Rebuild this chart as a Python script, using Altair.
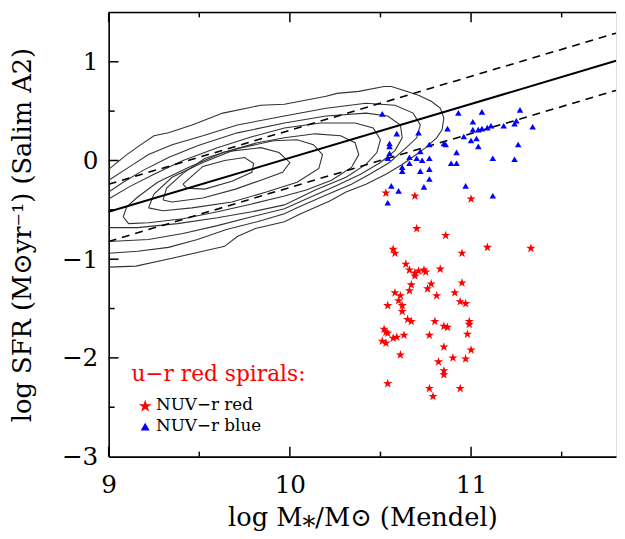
import altair as alt
import pandas as pd

# ---------------- data ----------------
blue_x = [10.51, 10.59, 10.71, 10.55, 10.55, 10.55, 10.54, 10.62, 10.62, 10.66, 10.66, 10.72, 10.70,
          10.73, 10.77, 10.77, 10.72, 10.77, 10.77, 10.74, 10.60, 10.56, 10.54, 10.85, 10.86, 10.87,
          10.93, 10.92, 10.89, 10.92, 10.96, 10.97, 11.00, 11.01, 11.01, 11.03, 11.04, 11.04, 11.06,
          11.06, 11.09, 11.11, 11.12, 11.12, 11.18, 11.24, 11.25, 11.27, 11.26, 11.24, 11.34]
blue_y = [0.47, 0.27, 0.28, 0.17, 0.14, 0.07, 0.02, -0.07, -0.11, 0.03, -0.03, 0.09, 0.02,
          0.00, 0.02, 0.16, -0.11, -0.09, -0.19, -0.27, -0.31, -0.26, -0.43, 0.17, 0.16, 0.32,
          0.48, 0.08, -0.03, -0.03, 0.24, -0.26, 0.20, 0.39, 0.31, 0.22, 0.14, 0.31, 0.32,
          0.49, 0.33, 0.35, 0.02, -0.36, 0.35, 0.37, 0.40, 0.51, 0.16, 0.01, 0.34]

red_x = [10.53, 10.69, 11.00, 10.70, 10.86, 10.57, 10.58, 11.09, 10.95, 10.64, 10.66, 10.69, 10.71,
         10.69, 10.74, 10.75, 10.83, 10.67, 10.78, 10.76, 10.95, 10.66, 10.58, 10.61, 10.91, 10.81,
         11.33, 10.60, 10.54, 10.62, 10.94, 10.97, 10.62, 10.65, 10.67, 10.80, 10.85, 10.87, 10.99,
         10.99, 10.52, 10.53, 10.54, 10.63, 10.57, 10.59, 10.77, 10.98, 10.51, 10.53, 10.85, 10.61,
         11.00, 10.82, 10.90, 10.97, 10.85, 10.85, 10.54, 10.77, 10.94, 10.79]
red_y = [-0.33, -0.36, -0.39, -0.69, -0.76, -0.90, -0.94, -0.88, -0.94, -1.05, -1.11, -1.14, -1.12,
         -1.17, -1.11, -1.13, -1.10, -1.26, -1.25, -1.30, -1.24, -1.32, -1.34, -1.37, -1.34, -1.37,
         -0.89, -1.42, -1.47, -1.47, -1.43, -1.45, -1.53, -1.61, -1.63, -1.63, -1.68, -1.69, -1.63,
         -1.66, -1.71, -1.74, -1.75, -1.77, -1.80, -1.79, -1.77, -1.76, -1.83, -1.85, -1.89, -1.97,
         -1.92, -2.04, -2.00, -2.01, -2.13, -2.17, -2.26, -2.31, -2.31, -2.39]

# contour polylines (outer -> inner)
c1_x = [9.00, 9.10, 9.17, 9.25, 9.33, 9.46, 9.63, 9.84, 9.97, 10.20, 10.26, 10.38, 10.52, 10.56, 10.63,
        10.71, 10.78, 10.83, 10.85, 10.84, 10.81, 10.75, 10.69, 10.62, 10.53, 10.42, 10.31, 10.22,
        10.06, 9.97, 9.81, 9.71, 9.64, 9.52, 9.35, 9.15, 9.00]
c1_y = [-0.09, 0.06, 0.15, 0.25, 0.28, 0.36, 0.48, 0.56, 0.57, 0.65, 0.68, 0.70, 0.75, 0.75, 0.71,
        0.66, 0.60, 0.53, 0.43, 0.31, 0.23, 0.13, 0.05, -0.04, -0.14, -0.24, -0.32, -0.41,
        -0.54, -0.62, -0.69, -0.77, -0.87, -0.92, -0.99, -1.07, -1.08]
c2_x = [9.00, 9.11, 9.22, 9.35, 9.52, 9.71, 9.97, 10.20, 10.42, 10.58, 10.68, 10.72, 10.70, 10.63,
        10.55, 10.44, 10.34, 10.20, 10.04, 9.97, 9.82, 9.65, 9.49, 9.33, 9.16, 9.00]
c2_y = [-0.20, -0.07, 0.06, 0.16, 0.25, 0.36, 0.45, 0.53, 0.58, 0.56, 0.48, 0.36, 0.23, 0.11,
        -0.02, -0.14, -0.24, -0.35, -0.48, -0.54, -0.62, -0.70, -0.80, -0.88, -0.92, -0.94]
c3_x = [9.00, 9.08, 9.19, 9.33, 9.49, 9.71, 9.97, 10.20, 10.42, 10.54, 10.61, 10.62, 10.58, 10.50,
        10.39, 10.25, 10.09, 9.97, 9.79, 9.60, 9.41, 9.22, 9.00]
c3_y = [-0.32, -0.22, -0.10, 0.03, 0.15, 0.28, 0.38, 0.45, 0.48, 0.45, 0.36, 0.23, 0.10, -0.02,
        -0.14, -0.26, -0.39, -0.49, -0.57, -0.66, -0.74, -0.80, -0.82]
c4_x = [9.00, 9.11, 9.25, 9.41, 9.60, 9.79, 9.97, 10.17, 10.36, 10.46, 10.50, 10.48, 10.42, 10.31,
        10.14, 9.97, 9.79, 9.60, 9.38, 9.16, 9.00]
c4_y = [-0.39, -0.27, -0.14, 0.00, 0.13, 0.24, 0.33, 0.38, 0.38, 0.33, 0.21, 0.08, -0.04, -0.17,
        -0.30, -0.45, -0.52, -0.58, -0.64, -0.68, -0.68]
c5_x = [9.08, 9.10, 9.16, 9.27, 9.44, 9.63, 9.82, 9.97, 10.14, 10.28, 10.36, 10.38, 10.34, 10.23,
        10.09, 9.97, 9.79, 9.60, 9.41, 9.22, 9.11, 9.08]
c5_y = [-0.57, -0.47, -0.37, -0.22, -0.07, 0.08, 0.18, 0.23, 0.27, 0.25, 0.18, 0.06, -0.07, -0.20,
        -0.30, -0.36, -0.44, -0.52, -0.59, -0.63, -0.64, -0.57]
c6_x = [9.22, 9.25, 9.35, 9.52, 9.71, 9.91, 10.04, 10.13, 10.18, 10.16, 10.04, 9.87, 9.68, 9.46,
        9.30, 9.22]
c6_y = [-0.48, -0.34, -0.17, -0.02, 0.12, 0.20, 0.21, 0.16, 0.06, -0.08, -0.22, -0.32, -0.42, -0.48,
        -0.51, -0.48]
c7_x = [9.30, 9.32, 9.41, 9.53, 9.65, 9.84, 9.94, 10.00, 9.96, 9.84, 9.70, 9.52, 9.35, 9.30]
c7_y = [-0.40, -0.28, -0.13, 0.02, 0.09, 0.13, 0.08, -0.02, -0.12, -0.20, -0.29, -0.38, -0.42, -0.40]
c8_x = [9.41, 9.47, 9.52, 9.64, 9.75, 9.80, 9.79, 9.68, 9.53, 9.43, 9.41]
c8_y = [-0.24, -0.14, -0.06, 0.00, 0.03, -0.03, -0.12, -0.21, -0.29, -0.28, -0.24]

# fitted relation and +-scatter
fit_x = [9.0, 11.8]
fit_y = [-0.52, 1.01]
fit_hi = [-0.24, 1.29]
fit_lo = [-0.82, 0.71]

x_major = [9, 10, 11]
x_minor = [9.5, 10.5, 11.5]
y_major = [-2, -1, 0, 1]
y_minor = [-2.5, -1.5, -0.5, 0.5]

legend_title = "u\u2212r red spirals:"
RED = "NUV\u2212r red"
BLUE = "NUV\u2212r blue"

# ---------------- tables ----------------
rows = []
for lev, (cx, cy) in enumerate([(c1_x, c1_y), (c2_x, c2_y), (c3_x, c3_y), (c4_x, c4_y),
                                (c5_x, c5_y), (c6_x, c6_y), (c7_x, c7_y), (c8_x, c8_y)]):
    for i, (a, b) in enumerate(zip(cx, cy)):
        rows.append({"x": a, "y": b, "level": lev, "o": i})
cdf = pd.DataFrame(rows)

fdf = pd.DataFrame({"x": fit_x * 3, "y": fit_y + fit_hi + fit_lo,
                    "kind": ["fit"] * 2 + ["hi"] * 2 + ["lo"] * 2})

rdf = pd.DataFrame({"x": red_x, "y": red_y})
bdf = pd.DataFrame({"x": blue_x, "y": blue_y})

W, H = 514, 450
FONT = "DejaVu Serif"
xs = alt.Scale(domain=[9, 11.8], nice=False, zero=False)
ys = alt.Scale(domain=[-3, 1.5], nice=False, zero=False)

xaxis = alt.Axis(values=x_major, ticks=False, grid=False, domainColor="black", domainWidth=1.6,
                 labelFont=FONT, labelFontSize=25, labelFontWeight="normal", labelColor="black",
                 labelPadding=16, labelFlush=False,
                 title="log M\u204e/M\u2299 (Mendel)", titleFont=FONT,
                 titleFontSize=26, titleFontWeight="normal", titleColor="black",
                 titleX=W / 2, titleY=62, titleBaseline="middle", titleAlign="center")
yaxis = alt.Axis(values=[-3] + y_major, ticks=False, grid=False, domainColor="black", domainWidth=1.6,
                 labelFont=FONT, labelFontSize=25, labelFontWeight="normal", labelColor="black",
                 labelPadding=11, labelFlush=False,
                 title="log SFR (M\u2299yr\u207b\u00b9) (Salim A2)", titleFont=FONT,
                 titleFontSize=26, titleFontWeight="normal", titleColor="black",
                 titleX=-87, titleY=H / 2, titleAngle=-90, titleBaseline="middle", titleAlign="center")

X = alt.X("x:Q", scale=xs, axis=xaxis)
Y = alt.Y("y:Q", scale=ys, axis=yaxis)

contours = alt.Chart(cdf).mark_line(color="#333333", strokeWidth=1.1).encode(
    x=X, y=Y, detail="level:N", order="o:Q")

fit = alt.Chart(fdf[fdf.kind == "fit"]).mark_line(color="black", strokeWidth=2).encode(x=X, y=Y)
fitd = alt.Chart(fdf[fdf.kind != "fit"]).mark_line(color="black", strokeWidth=1.6,
                                                  strokeDash=[8, 6]).encode(x=X, y=Y, detail="kind:N")

STAR = ("M0,-1L0.2245,-0.309L0.951,-0.309L0.363,0.118L0.588,0.809L0,0.382L-0.588,0.809"
        "L-0.363,0.118L-0.951,-0.309L-0.2245,-0.309Z")
TRI = "M0,-0.65L0.7,0.55L-0.7,0.55Z"

stars = alt.Chart(rdf).mark_point(filled=True, shape=STAR, size=95, color="#ff0000",
                                  opacity=1).encode(x=X, y=Y)
tris = alt.Chart(bdf).mark_point(filled=True, shape=TRI, size=90, color="#0000ff",
                                 opacity=1).encode(x=X, y=Y)

# ---- legend block (annotation) ----
one = pd.DataFrame({"a": [0]})
leg_title = alt.Chart(one).mark_text(text=legend_title, font=FONT, fontSize=22, color="red",
                                     align="left", baseline="middle").encode(
    x=alt.value(23), y=alt.value(366))
leg_star = alt.Chart(one).mark_point(filled=True, shape=STAR, size=190, color="#ff0000",
                                     opacity=1).encode(x=alt.value(37), y=alt.value(399))
leg_tri = alt.Chart(one).mark_point(filled=True, shape=TRI, size=170, color="#0000ff",
                                    opacity=1).encode(x=alt.value(37), y=alt.value(420))
leg_red = alt.Chart(one).mark_text(text=RED, font=FONT, fontSize=17, color="black",
                                   align="left", baseline="middle").encode(
    x=alt.value(48), y=alt.value(398))
leg_blue = alt.Chart(one).mark_text(text=BLUE, font=FONT, fontSize=17, color="black",
                                    align="left", baseline="middle").encode(
    x=alt.value(48), y=alt.value(419))

xmaj = pd.DataFrame({"v": x_major})
xmin = pd.DataFrame({"v": x_minor})
ymaj = pd.DataFrame({"v": y_major})
ymin = pd.DataFrame({"v": y_minor})

tk = []
for d, L in [(xmaj, 10), (xmin, 5)]:
    tk.append(alt.Chart(d).mark_rule(color="black", strokeWidth=1.5).encode(
        x=alt.X("v:Q", scale=xs, axis=xaxis), y=alt.value(H), y2=alt.value(H - L)))
    tk.append(alt.Chart(d).mark_rule(color="black", strokeWidth=1.5).encode(
        x=alt.X("v:Q", scale=xs, axis=xaxis), y=alt.value(0), y2=alt.value(L)))
for d, L in [(ymaj, 10), (ymin, 6)]:
    tk.append(alt.Chart(d).mark_rule(color="black", strokeWidth=1.5).encode(
        y=alt.Y("v:Q", scale=ys, axis=yaxis), x=alt.value(0), x2=alt.value(L)))

top = alt.Chart(one).mark_rule(color="black", strokeWidth=1.6).encode(
    x=alt.value(0), x2=alt.value(W), y=alt.value(0))

chart = alt.layer(contours, fit, fitd, stars, tris, leg_title, leg_star, leg_tri, leg_red, leg_blue,
                  *tk, top).properties(
    width=W, height=H,
    autosize=alt.AutoSizeParams(type="none"),
    padding={"left": 102, "top": 1, "right": 1, "bottom": 80},
).configure_view(stroke=None).configure(background="white")

chart.save("out.html", embed_options={"renderer": "svg", "actions": False})
